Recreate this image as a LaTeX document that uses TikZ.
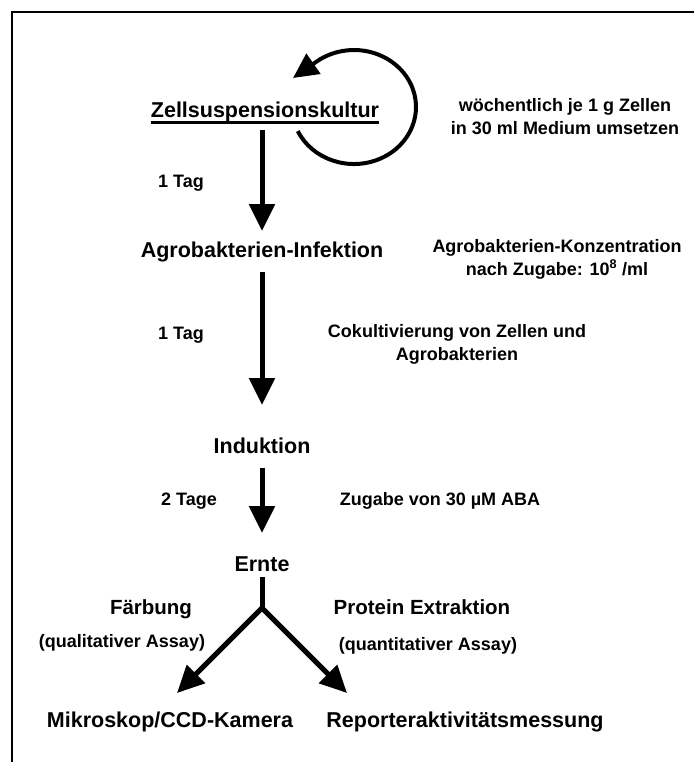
\documentclass[tikz,border=0pt]{standalone}
\usepackage{fontspec}
\setmainfont{Liberation Sans}
\usetikzlibrary{arrows.meta}
\newcommand\fbig{\fontsize{21.5}{26}\selectfont\bfseries}
\newcommand\fmid{\fontsize{20.5}{24}\selectfont\bfseries}
\newcommand\fsmall{\fontsize{18}{23}\selectfont\bfseries}
\begin{document}
\begin{tikzpicture}[x=1pt,y=-1pt,
  big/.style={font=\fbig, inner sep=0pt, text height=15.5pt, text depth=0pt},
  mid/.style={font=\fmid, inner sep=0pt, text height=14.8pt, text depth=0pt},
  small/.style={font=\fsmall, inner sep=0pt, text height=12.9pt, text depth=0pt},
  note/.style={font=\fsmall, inner sep=0pt, align=center},
  flow/.style={line width=5pt, -{Triangle[width=25pt,length=27pt]}},
  shaft/.style={line width=5pt},
  looparrow/.style={line width=4pt, -{Triangle[width=24pt,length=25pt]}},
  frame/.style={line width=2.5pt}]
\useasboundingbox (0,0) rectangle (693,762);
\draw[frame] (12,775) -- (12,12) -- (705,12);

\node[big] (zell) at (265,110) {Zellsuspensionskultur};
\draw[line width=2.6pt] ([yshift=-4.5pt]zell.south west) -- ([yshift=-4.5pt]zell.south east);
\node[note] (woch) at (565,117) {wöchentlich je 1 g Zellen\\in 30 ml Medium umsetzen};
\node[small] (tag1) at (181,181) {1 Tag};
\node[big] (agro) at (262,250) {Agrobakterien-Infektion};
\node[note] (konz) at (557,259) {Agrobakterien-Konzentration\\nach Zugabe: 10\textsuperscript{8} /ml};
\node[small] (tag2) at (181,333) {1 Tag};
\node[note] (coku) at (457,344) {Cokultivierung von Zellen und\\Agrobakterien};
\node[big] (ind) at (262,446) {Induktion};
\node[small] (tage) at (189,499) {2 Tage};
\node[small] (zug) at (440,499) {Zugabe von 30 µM ABA};
\node[big] (ernte) at (262,564) {Ernte};
\node[mid] (farb) at (151,607) {Färbung};
\node[mid] (prot) at (422,607) {Protein Extraktion};
\node[small] (qual) at (122,641) {(qualitativer Assay)};
\node[small] (quant) at (428,644) {(quantitativer Assay)};
\node[big] (mikro) at (170,720) {Mikroskop/CCD-Kamera};
\node[big] (rep) at (465,720) {Reporteraktivitätsmessung};

\coordinate (loopS) at (297.8,131.1);
\coordinate (loopT) at (293,78);
\draw[looparrow] (loopS) arc[start angle=155, end angle=-128, x radius=62, y radius=57] -- (loopT);

\draw[flow, shorten <=12pt, shorten >=11pt] (zell.south -| agro.north) -- (agro.north);
\draw[flow, shorten <=14pt, shorten >=33pt] (agro.south) -- (ind.north);
\draw[flow, shorten <=14pt, shorten >=23pt] (ind.south) -- (ernte.north);

\coordinate (br) at (262,608);
\coordinate (tipL) at (177,693);
\coordinate (tipR) at (347,693);
\draw[shaft, shorten <=5pt] (ernte.south) -- (br);
\draw[flow, line cap=round] (br) -- (tipL);
\draw[flow, line cap=round] (br) -- (tipR);
\end{tikzpicture}
\end{document}
